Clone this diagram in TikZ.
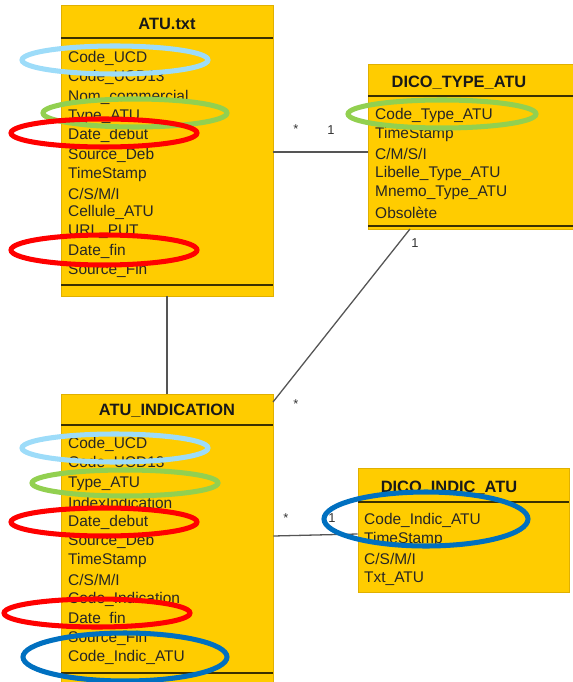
\documentclass[tikz,border=0pt]{standalone}
\usepackage{fontspec}
\setmainfont{Liberation Sans}
\usepackage{tikz}
\usetikzlibrary{positioning}
\definecolor{BoxYellow}{HTML}{FFCC00}
\definecolor{BoxEdge}{HTML}{E0B000}
\definecolor{RuleBrown}{HTML}{3A3000}
\definecolor{MarkSky}{HTML}{9DDCF9}
\definecolor{MarkGreen}{HTML}{92D050}
\definecolor{MarkRed}{HTML}{FF0000}
\definecolor{MarkBlue}{HTML}{0070C0}
\definecolor{LinkGrey}{HTML}{555555}

\begin{document}
\begin{tikzpicture}[x=0.03cm,y=-0.03cm,
  classbox/.style={draw=BoxEdge,fill=BoxYellow,line width=0.6pt,inner sep=0},
  title/.style={font=\fontsize{14}{16}\selectfont\bfseries,text=black!90,inner sep=0},
  attr/.style={anchor=west,inner sep=0,font=\fontsize{13.2}{15}\selectfont,text=black!85},
  sepline/.style={RuleBrown,line width=1.6pt},
  link/.style={LinkGrey,line width=1.1pt},
  mult/.style={font=\fontsize{11}{13}\selectfont,text=black!80,inner sep=0},
  ring/.style={line width=4.3pt}]
  \useasboundingbox (0,0) rectangle (573,682);
  % class boxes
  \node[classbox,minimum width=6.36cm,minimum height=8.73cm] (atu) at (167,150.5) {};
  \node[classbox,minimum width=6.24cm,minimum height=4.95cm] (dicotype) at (472,146.5) {};
  \node[classbox,minimum width=6.36cm,minimum height=8.7cm] (atuind) at (167,539) {};
  \node[classbox,minimum width=6.33cm,minimum height=3.72cm] (dicoind) at (463.5,530) {};
  \node[title] (atutitle) at (167,24) {ATU.txt};
  \node[title] (dicotypetitle) at (459,83) {DICO\_TYPE\_ATU};
  \node[title] (atuindtitle) at (167,411) {ATU\_INDICATION};
  \node[title] (dicoindtitle) at (449,488) {DICO\_INDIC\_ATU};
  \draw[sepline] (61,38) -- (273,38);
  \draw[sepline] (61,285) -- (273,285);
  \draw[sepline] (368,96) -- (576,96);
  \draw[sepline] (368,226) -- (576,226);
  \draw[sepline] (61,425) -- (273,425);
  \draw[sepline] (61,673) -- (273,673);
  \draw[sepline] (358,502) -- (569,502);
  % attributes
  \foreach \t [count=\i] in {Code\_UCD,Code\_UCD13,Nom\_commercial,Type\_ATU,Date\_debut,
    Source\_Deb,TimeStamp,C/S/M/I,Cellule\_ATU,URL\_PUT,Date\_fin,Source\_Fin}
    \node[attr] (atua\i) at (68,58.5+19.3*\i-19.3) {\t};
  \foreach \t [count=\i] in {Code\_Type\_ATU,TimeStamp,C/M/S/I,Libelle\_Type\_ATU,
    Mnemo\_Type\_ATU,Obsolète}
    \node[attr] (dicotypea\i) at (375,115.5+19.4*\i-19.4) {\t};
  \foreach \t [count=\i] in {Code\_UCD,Code\_UCD13,Type\_ATU,IndexIndication,Date\_debut,
    Source\_Deb,TimeStamp,C/S/M/I,Code\_Indication,Date\_fin,Source\_Fin,Code\_Indic\_ATU}
    \node[attr] (atuinda\i) at (68,444.5+19.4*\i-19.4) {\t};
  \foreach \t [count=\i] in {Code\_Indic\_ATU,TimeStamp,C/S/M/I,Txt\_ATU}
    \node[attr] (dicoinda\i) at (364,520.5+19.4*\i-19.4) {\t};
  % associations
  \coordinate (typefoot) at (410,229);
  \coordinate (indtop) at (273,402);
  \draw[link] (atu.east |- 0,152) -- (dicotype.west |- 0,152);
  \draw[link] (atu.south) -- (atuind.north);
  \draw[link] (typefoot) -- (indtop);
  \draw[link] (atuind.east |- 0,536) -- (dicoind.west |- 0,534);
  \node[mult] (m1) at (296,129) {*};
  \node[mult] (m2) at (331,130) {1};
  \node[mult] (m3) at (415,243) {1};
  \node[mult] (m4) at (296,404) {*};
  \node[mult] (m5) at (286,518) {*};
  \node[mult] (m6) at (332,518) {1};
  % highlights
  \draw[ring,MarkSky] (115,60) ellipse [x radius=93,y radius=14];
  \draw[ring,MarkGreen] (135,113) ellipse [x radius=92,y radius=14];
  \draw[ring,MarkRed] (104,133) ellipse [x radius=93,y radius=14];
  \draw[ring,MarkRed] (104,250) ellipse [x radius=93,y radius=15];
  \draw[ring,MarkGreen] (442,114) ellipse [x radius=94,y radius=14];
  \draw[ring,MarkSky] (115,448) ellipse [x radius=93,y radius=14];
  \draw[ring,MarkGreen] (125,483) ellipse [x radius=93,y radius=13];
  \draw[ring,MarkRed] (104,522) ellipse [x radius=93,y radius=14];
  \draw[ring,MarkRed] (97,613) ellipse [x radius=93,y radius=14];
  \draw[ring,MarkBlue] (125,657) ellipse [x radius=102,y radius=24];
  \draw[ring,MarkBlue] (426,519) ellipse [x radius=102,y radius=27];
\end{tikzpicture}
\end{document}
